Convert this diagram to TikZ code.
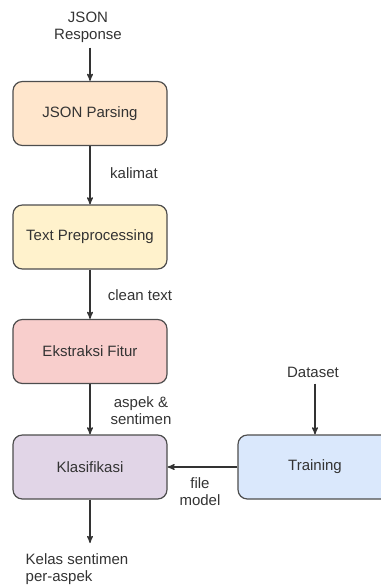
\documentclass[tikz,border=0pt]{standalone}
\usepackage{fontspec}
\setmainfont{Liberation Sans}
\usepackage[dvipsnames]{xcolor}
\usetikzlibrary{arrows}

\definecolor{orangefill}{HTML}{FFE6CC}
\definecolor{yellowfill}{HTML}{FFF2CC}
\definecolor{redfill}{HTML}{F8CECC}
\definecolor{purplefill}{HTML}{E1D5E7}
\definecolor{bluefill}{HTML}{DAE8FC}
\definecolor{linegray}{HTML}{4D4D4D}
\definecolor{textgray}{HTML}{333333}

\tikzset{
  procbox/.style={draw=linegray, line width=0.9pt, rounded corners=7pt,
    minimum width=115.5pt, minimum height=48pt, text=textgray},
  flowlabel/.style={text=textgray, align=center, inner sep=0pt},
  flowarrow/.style={->, >=stealth', line width=0.9pt, draw=textgray}
}

\begin{document}
\begin{tikzpicture}[x=0.75pt, y=-0.75pt,
  every node/.style={font=\fontsize{11.25}{12.75}\selectfont}]

  \useasboundingbox (0,0) rectangle (381,586);

  %process boxes:
  \node[procbox, fill=orangefill] (parse) at (90,113.5) {JSON Parsing};
  \node[procbox, fill=yellowfill] (prep) at (90,237) {Text Preprocessing};
  \node[procbox, fill=redfill] (fitur) at (90,351.5) {Ekstraksi Fitur};
  \node[procbox, fill=purplefill] (klas) at (90,467) {Klasifikasi};
  \node[procbox, fill=bluefill] (train) at (315,467) {Training};

  %inputs and output:
  \node[flowlabel] (resp) at (88,27) {JSON\\Response};
  \node[flowlabel] (data) at (313,372) {Dataset};
  \node[flowlabel, align=left] (kelas) at (77,569.5) {Kelas sentimen\\per-aspek};
  \coordinate (kelasend) at (90,543);

  %labels on the arrows:
  \node[flowlabel] (lkal) at (134,173) {kalimat};
  \node[flowlabel] (lclean) at (140,295) {clean text};
  \node[flowlabel] (laspek) at (141,411) {aspek \&\\sentimen};
  \node[flowlabel] (lmodel) at (200,492) {file\\model};

  %arrows:
  \draw[flowarrow] (parse |- resp.south) ++(0,5) -- (parse);
  \draw[flowarrow] (parse) -- (prep);
  \draw[flowarrow] (prep) -- (fitur);
  \draw[flowarrow] (fitur) -- (klas);
  \draw[flowarrow] (train |- data.south) ++(0,6) -- (train);
  \draw[flowarrow] (train) -- (klas);
  \draw[flowarrow] (klas) -- (kelasend);
\end{tikzpicture}
\end{document}
